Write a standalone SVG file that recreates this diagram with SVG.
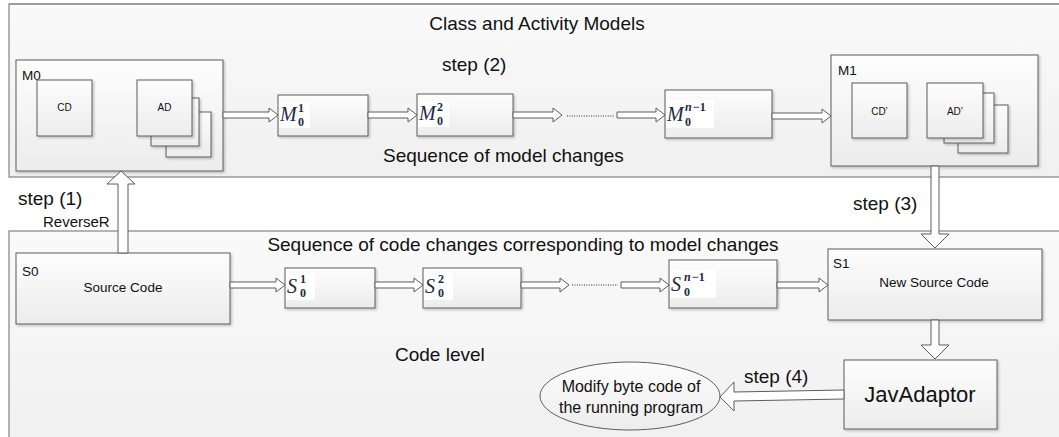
<svg xmlns="http://www.w3.org/2000/svg" width="1059" height="437" viewBox="0 0 1059 437">
<defs>
<linearGradient id="boxg" x1="0" y1="0" x2="0" y2="1"><stop offset="0" stop-color="#fdfdfd"/><stop offset="1" stop-color="#ececec"/></linearGradient>
<linearGradient id="contg" x1="0" y1="0" x2="0" y2="1"><stop offset="0" stop-color="#fafafa"/><stop offset="1" stop-color="#f0f0f0"/></linearGradient>
<filter id="sh" x="-10%" y="-10%" width="130%" height="130%"><feDropShadow dx="1.5" dy="1.5" stdDeviation="0.8" flood-color="#000" flood-opacity="0.22"/></filter>
<style>
.cont{fill:url(#contg);stroke:#6a6a6a;stroke-width:1}
.box{fill:url(#boxg);stroke:#5c5c5c;stroke-width:1;filter:url(#sh)}
.big{font-family:"Liberation Sans",Arial,sans-serif;font-size:19px;fill:#111}
.mid{font-family:"Liberation Sans",Arial,sans-serif;font-size:13.5px;fill:#111}
.sm{font-family:"Liberation Sans",Arial,sans-serif;font-size:10px;fill:#111}
.m{font-family:"Liberation Serif","Times New Roman",serif;font-style:italic;font-size:20px;fill:#1c2a48}
.ms{font-family:"Liberation Serif","Times New Roman",serif;font-size:12px;fill:#1c2a48;font-weight:bold}
.msi{font-family:"Liberation Serif","Times New Roman",serif;font-size:12px;fill:#1c2a48;font-style:italic;font-weight:bold}
.lbg{fill:#ffffff}
.arr{fill:#ffffff;stroke:#5c5c5c;stroke-width:1;stroke-linejoin:miter}
.dot{stroke:#333;stroke-width:1;stroke-dasharray:1 1.4;fill:none}
</style>
</defs>

<g id="container-models">
<rect x="9" y="4" width="1060" height="173" class="cont"/>
<line x1="9" y1="4" x2="1059" y2="4" stroke="#9a9a9a" stroke-width="2"/>
<text x="537" y="30" class="big" text-anchor="middle">Class and Activity Models</text>
<text x="442" y="71" class="big">step (2)</text>
<text x="383" y="162" class="big">Sequence of model changes</text>
</g>

<g id="container-code">
<rect x="9" y="231" width="1060" height="220" class="cont"/>
<text x="523" y="251" class="big" text-anchor="middle">Sequence of code changes corresponding to model changes</text>
<text x="395" y="361" class="big">Code level</text>
</g>

<g id="labels">
<text x="18" y="205" class="big">step (1)</text>
<text x="43" y="227" class="mid" style="font-size:15px">ReverseR</text>
<text x="853" y="210" class="big">step (3)</text>
<text x="744" y="383" class="big">step (4)</text>
</g>

<g id="M0">
<rect x="16" y="60" width="207" height="111" class="box"/>
<text x="22" y="80" class="mid">M0</text>
<g id="CD"><rect x="37" y="80" width="55" height="56" class="box"/><text x="64.5" y="111" class="sm" text-anchor="middle">CD</text></g>
<g id="AD">
<rect x="166" y="112" width="45" height="45" class="box"/>
<rect x="151" y="98" width="48" height="48" class="box"/>
<rect x="137" y="80" width="55" height="56" class="box"/>
<text x="164.5" y="111" class="sm" text-anchor="middle">AD</text>
</g>
</g>

<g id="M0-1">
<rect x="278" y="95" width="90" height="41" class="box"/>
<rect x="279" y="102" width="31" height="26" class="lbg"/>
<text x="280" y="121" class="m">M</text><text x="298" y="112" class="ms">1</text><text x="298" y="126" class="ms">0</text>
</g>

<g id="M0-2">
<rect x="417" y="94" width="96" height="42" class="box"/>
<rect x="418" y="101" width="31" height="26" class="lbg"/>
<text x="419" y="120" class="m">M</text><text x="437" y="111" class="ms">2</text><text x="437" y="125" class="ms">0</text>
</g>

<g id="M0-n-1">
<rect x="665" y="90" width="107" height="48" class="box"/>
<rect x="666" y="100" width="48" height="28" class="lbg"/>
<text x="667" y="121" class="m">M</text><text x="685" y="111" class="msi">n</text><text x="693" y="111" class="ms">−1</text><text x="685" y="126" class="ms">0</text>
</g>

<g id="M1">
<rect x="831" y="55" width="207" height="111" class="box"/>
<text x="838" y="75" class="mid">M1</text>
<g id="CDp"><rect x="852" y="83" width="55" height="55" class="box"/><text x="879.5" y="115" class="sm" text-anchor="middle">CD’</text></g>
<g id="ADp">
<rect x="958" y="105" width="50" height="48" class="box"/>
<rect x="944" y="93" width="50" height="50" class="box"/>
<rect x="927" y="83" width="56" height="55" class="box"/>
<text x="955" y="115" class="sm" text-anchor="middle">AD’</text>
</g>
</g>

<g id="S0">
<rect x="16" y="253" width="214" height="71" class="box"/>
<text x="22" y="276" class="mid">S0</text>
<text x="123" y="292" class="mid" text-anchor="middle">Source Code</text>
</g>

<g id="S0-1">
<rect x="285" y="268" width="90" height="40" class="box"/>
<rect x="286" y="273" width="29" height="27" class="lbg"/>
<text x="287" y="293" class="m">S</text><text x="300" y="283" class="ms">1</text><text x="300" y="297" class="ms">0</text>
</g>

<g id="S0-2">
<rect x="423" y="268" width="98" height="40" class="box"/>
<rect x="424" y="273" width="29" height="27" class="lbg"/>
<text x="425" y="293" class="m">S</text><text x="438" y="283" class="ms">2</text><text x="438" y="297" class="ms">0</text>
</g>

<g id="S0-n-1">
<rect x="669" y="260" width="108" height="48" class="box"/>
<rect x="670" y="270" width="46" height="28" class="lbg"/>
<text x="671" y="291" class="m">S</text><text x="684" y="281" class="msi">n</text><text x="692" y="281" class="ms">−1</text><text x="684" y="296" class="ms">0</text>
</g>

<g id="S1">
<rect x="828" y="249" width="214" height="71" class="box"/>
<text x="833" y="268" class="mid">S1</text>
<text x="934" y="287" class="mid" text-anchor="middle">New Source Code</text>
</g>

<g id="JavAdaptor">
<rect x="844" y="360" width="153" height="69" class="box"/>
<text x="920" y="402" class="big" style="font-size:22px" text-anchor="middle">JavAdaptor</text>
</g>

<g id="modify">
<ellipse cx="630" cy="396" rx="90" ry="34" fill="url(#boxg)" stroke="#5c5c5c" stroke-width="1"/>
<text x="631" y="392" class="mid" style="font-size:16px" text-anchor="middle">Modify byte code of</text>
<text x="631" y="413" class="mid" style="font-size:16px" text-anchor="middle">the running program</text>
</g>

<g id="connectors">
<polygon class="arr" points="223,112 269,112 269,108 278,115 269,122 269,118 223,118"/>
<polygon class="arr" points="368,112 408,112 408,108 417,115 408,122 408,118 368,118"/>
<polygon class="arr" points="513,112 553,112 553,108 562,115 553,122 553,118 513,118"/>
<line class="dot" x1="567" y1="116" x2="615" y2="116"/>
<polygon class="arr" points="617,112 656,112 656,108 665,115 656,122 656,118 617,118"/>
<polygon class="arr" points="772,113 822,113 822,109 831,116 822,123 822,119 772,119"/>

<polygon class="arr" points="230,282 276,282 276,278 285,285 276,292 276,288 230,288"/>
<polygon class="arr" points="375,282 414,282 414,278 423,285 414,292 414,288 375,288"/>
<polygon class="arr" points="521,282 560,282 560,278 569,285 560,292 560,288 521,288"/>
<line class="dot" x1="572" y1="285" x2="618" y2="285"/>
<polygon class="arr" points="621,282 660,282 660,278 669,285 660,292 660,288 621,288"/>
<polygon class="arr" points="777,282 819,282 819,278 828,285 819,292 819,288 777,288"/>

<polygon class="arr" points="118,253 118,184 107,184 121,171 135,184 128,184 128,253"/>
<polygon class="arr" points="931,166 931,234 921,234 935,248 949,234 939,234 939,166"/>
<polygon class="arr" points="931,320 931,345 921,345 935,359 949,345 939,345 939,320"/>
<polygon class="arr" points="844,390 734,392 734,382 720,397 734,411 734,401 844,399"/>
</g>
</svg>
